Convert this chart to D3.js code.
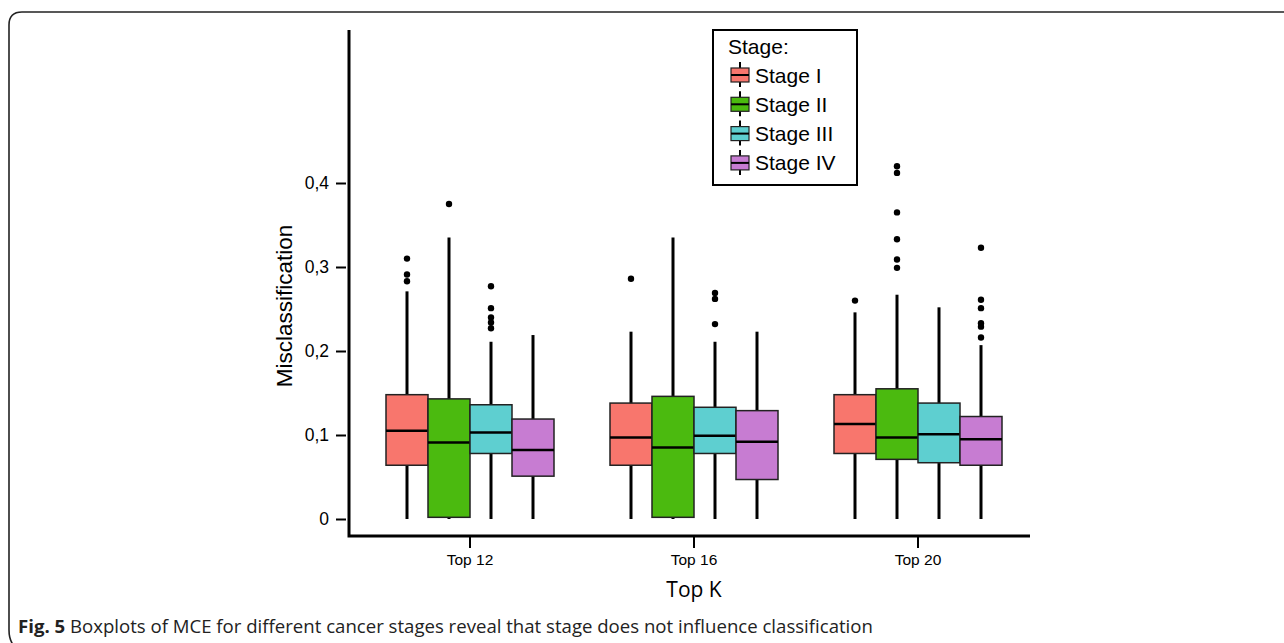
<!DOCTYPE html>
<html lang="en">
<head>
<meta charset="UTF-8">
<title>Boxplots of MCE by cancer stage</title>
<style>
  body { margin: 0; background: #fff; }
  svg { display: block; font-family: "Liberation Sans", Arial, sans-serif; }
  .axis text { font-size: 17.5px; fill: #000; }
  .axis line { stroke: #000; stroke-width: 2; }
  .axis path { display: none; }
</style>
</head>
<body>
<svg id="chart" width="1284" height="643"></svg>
<script src="https://d3js.org/d3.v7.min.js"></script>
<script>
// categories
const groups = ["Top 12", "Top 16", "Top 20"];
const stages = ["Stage I", "Stage II", "Stage III", "Stage IV"];
const colors = ["#F8766D", "#4BBA0F", "#5ECFD0", "#C77CD2"];
const yTicks = [0, 0.1, 0.2, 0.3, 0.4];
const yTickLabels = ["0", "0,1", "0,2", "0,3", "0,4"];

// box statistics, one row per group, one entry per stage
const lowWhisker = [
  [0, 0, 0, 0],
  [0, 0, 0, 0],
  [0, 0, 0, 0]
];
const q1 = [
  [0.064, 0.002, 0.078, 0.051],
  [0.064, 0.002, 0.078, 0.047],
  [0.078, 0.071, 0.067, 0.064]
];
const median = [
  [0.105, 0.091, 0.103, 0.082],
  [0.097, 0.085, 0.099, 0.092],
  [0.113, 0.097, 0.101, 0.095]
];
const q3 = [
  [0.148, 0.143, 0.136, 0.119],
  [0.138, 0.146, 0.133, 0.129],
  [0.148, 0.155, 0.138, 0.122]
];
const highWhisker = [
  [0.271, 0.335, 0.211, 0.219],
  [0.223, 0.335, 0.211, 0.223],
  [0.246, 0.267, 0.252, 0.207]
];
const outliers = [
  [[0.310, 0.291, 0.283], [0.375], [0.277, 0.251, 0.240, 0.234, 0.227], []],
  [[0.286], [], [0.269, 0.262, 0.232], []],
  [[0.260], [0.420, 0.412, 0.365, 0.333, 0.309, 0.299], [], [0.323, 0.261, 0.251, 0.233, 0.229, 0.216]]
];

const svg = d3.select("#chart");

// figure frame (rounded, runs off the right and bottom edge)
svg.append("path")
  .attr("d", "M1290,12 L22,12 Q9,12 9,25 L9,630 Q9,640 14,646")
  .attr("fill", "none")
  .attr("stroke", "#222")
  .attr("stroke-width", 1.6);

const y = d3.scaleLinear().domain([0, 0.4]).range([519, 183]);
const x = d3.scaleBand().domain(groups).range([358, 1030]).paddingInner(0).paddingOuter(0);
const xs = d3.scaleBand().domain(stages).range([-84, 84]);
const color = d3.scaleOrdinal().domain(stages).range(colors);

const axisLeftX = 349, axisBottomY = 536;

// y axis ticks
svg.append("g")
  .attr("class", "axis")
  .attr("transform", `translate(${axisLeftX - 3},0)`)
  .call(d3.axisLeft(y).tickValues(yTicks).tickSize(10).tickPadding(7)
    .tickFormat((d, i) => yTickLabels[i]));

// x axis ticks
svg.append("g")
  .attr("class", "axis")
  .attr("transform", `translate(0,${axisBottomY + 1})`)
  .call(d3.axisBottom(x).tickSize(11).tickPadding(6))
  .selectAll("text").style("font-size", "15.5px");

// axis lines
svg.append("path")
  .attr("d", `M${axisLeftX},30 L${axisLeftX},${axisBottomY} L1030,${axisBottomY}`)
  .attr("fill", "none")
  .attr("stroke", "#000")
  .attr("stroke-width", 3);

// boxes
const boxes = [];
groups.forEach((g, gi) => stages.forEach((s, si) => boxes.push({
  g, s, lo: lowWhisker[gi][si], q1: q1[gi][si], med: median[gi][si],
  q3: q3[gi][si], hi: highWhisker[gi][si], out: outliers[gi][si]
})));

const bw = xs.bandwidth();
const box = svg.append("g").selectAll("g").data(boxes).join("g")
  .attr("transform", d => `translate(${x(d.g) + x.bandwidth() / 2 + xs(d.s)},0)`);

box.append("line")
  .attr("x1", bw / 2).attr("x2", bw / 2)
  .attr("y1", d => y(d.lo)).attr("y2", d => y(d.hi))
  .attr("stroke", "#000").attr("stroke-width", 3);

box.append("rect")
  .attr("x", 0).attr("width", bw)
  .attr("y", d => y(d.q3))
  .attr("height", d => y(d.q1) - y(d.q3))
  .attr("fill", d => color(d.s))
  .attr("stroke", "#222").attr("stroke-width", 1.5);

box.append("line")
  .attr("x1", 0).attr("x2", bw)
  .attr("y1", d => y(d.med)).attr("y2", d => y(d.med))
  .attr("stroke", "#000").attr("stroke-width", 2.5);

box.selectAll("circle").data(d => d.out).join("circle")
  .attr("cx", bw / 2).attr("cy", v => y(v)).attr("r", 3.2)
  .attr("fill", "#000");

// axis titles
svg.append("text")
  .attr("transform", "translate(292,306) rotate(-90)")
  .attr("text-anchor", "middle")
  .style("font-size", "22.5px")
  .text("Misclassification");

svg.append("text")
  .attr("x", 694).attr("y", 597)
  .attr("text-anchor", "middle")
  .style("font-family", "'Open Sans', sans-serif")
  .style("font-size", "21px")
  .text("Top K");

// legend
const legend = svg.append("g").attr("transform", "translate(713,30)");
legend.append("rect")
  .attr("width", 144).attr("height", 155)
  .attr("fill", "#fff").attr("stroke", "#000").attr("stroke-width", 2);
legend.append("text")
  .attr("x", 15).attr("y", 24)
  .style("font-size", "21px")
  .text("Stage:");

const rowH = 29.3;
const item = legend.selectAll("g.item").data(stages).join("g")
  .attr("class", "item")
  .attr("transform", (d, i) => `translate(0,${45 + i * rowH})`);
item.append("line")
  .attr("x1", 27).attr("x2", 27)
  .attr("y1", -13).attr("y2", 12)
  .attr("stroke", "#000").attr("stroke-width", 2);
item.append("rect")
  .attr("x", 18).attr("y", -7).attr("width", 18).attr("height", 14)
  .attr("fill", d => color(d)).attr("stroke", "#222").attr("stroke-width", 1.2);
item.append("line")
  .attr("x1", 18).attr("x2", 36).attr("y1", 0).attr("y2", 0)
  .attr("stroke", "#000").attr("stroke-width", 2);
item.append("text")
  .attr("x", 42).attr("y", 7.5)
  .style("font-size", "21px")
  .text(d => d);

// caption
const cap = svg.append("text")
  .attr("x", 18).attr("y", 633)
  .style("font-family", "'Open Sans', sans-serif")
  .style("font-size", "18.6px")
  .attr("fill", "#222");
cap.append("tspan").style("font-weight", "bold").text("Fig. 5");
cap.append("tspan").text(" Boxplots of MCE for different cancer stages reveal that stage does not influence classification");
</script>
</body>
</html>
